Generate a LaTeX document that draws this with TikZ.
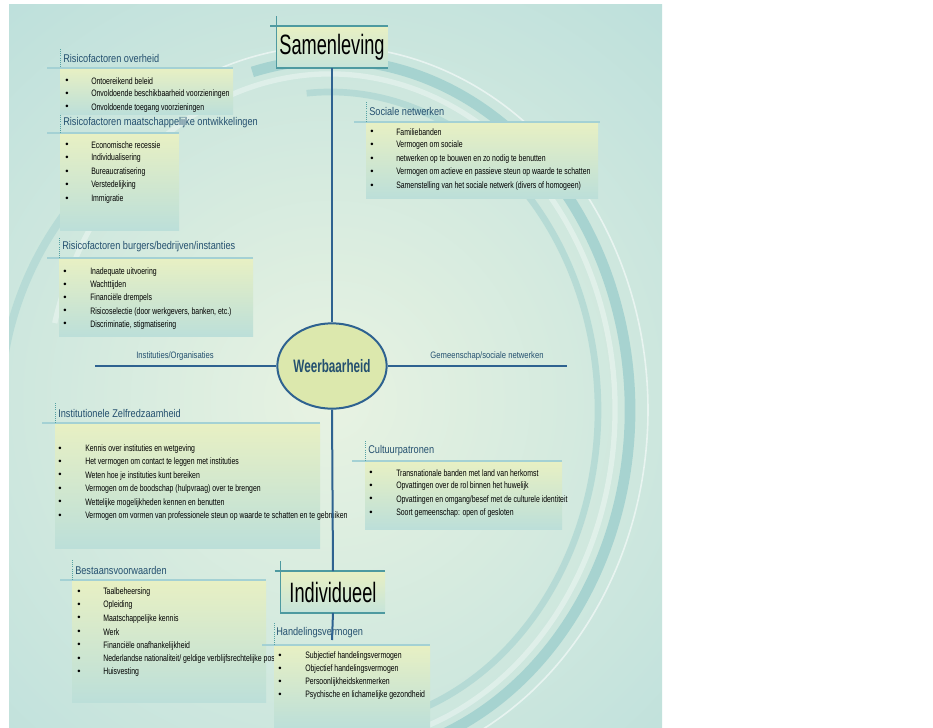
\documentclass[tikz,border=0pt]{standalone}
\usepackage{fontspec}
\setmainfont{Liberation Sans}
\newfontfamily\narrowA{Liberation Sans}[FakeStretch=0.82]
\newfontfamily\narrowB{Liberation Sans}[FakeStretch=0.65]
\newfontfamily\narrowC{Liberation Sans}[FakeStretch=0.74]
\usetikzlibrary{shapes.geometric}

\definecolor{bgteal}{HTML}{B3DBDA}
\definecolor{bglight}{HTML}{E8F3E2}
\definecolor{boxtop}{HTML}{E8F0C3}
\definecolor{boxbot}{HTML}{BCDFD9}
\definecolor{catbot}{HTML}{C6E4DA}
\definecolor{ttlblue}{HTML}{24506F}
\definecolor{axisblue}{HTML}{2E6290}
\definecolor{bandteal}{HTML}{A4D1D4}
\definecolor{dotteal}{HTML}{55A2A3}
\definecolor{catteal}{HTML}{4E9AA0}
\definecolor{ellfill}{HTML}{DCE8AD}
\definecolor{swirl}{HTML}{97CBCB}

\begin{document}
\begin{tikzpicture}[x=0.75pt,y=-0.75pt,
  ttl/.style={anchor=west,inner sep=0pt,text=ttlblue,font=\narrowA\fontsize{8.4}{10}\selectfont},
  itm/.style={anchor=west,inner sep=0pt,font=\narrowC\fontsize{7}{8}\selectfont},
  bul/.style={inner sep=0pt,font=\fontsize{7}{8}\selectfont},
  band/.style={draw=bandteal,line width=2.2pt},
  panel/.style={top color=boxtop,bottom color=boxbot},
  dotline/.style={draw=dotteal,densely dotted,line width=.6pt},
  axis/.style={draw=axisblue,line width=1.5pt},
  axlbl/.style={inner sep=0pt,text=ttlblue,font=\narrowA\fontsize{7}{8}\selectfont},
  catbox/.style={top color=boxtop,bottom color=catbot,inner sep=0pt,minimum height=31pt,
    font=\narrowB\fontsize{21}{24}\selectfont},
  catline/.style={draw=catteal,line width=.9pt}]
\useasboundingbox (0,0) rectangle (933,728);
\fill[white] (0,0) rectangle (933,728);

% background with swirls
\begin{scope}
 \clip (9,4) rectangle (662,728);
 \fill[bgteal] (9,4) rectangle (662,728);
 \shade[inner color=bglight,outer color=bgteal] (330,400) circle (640);
 \draw[swirl,opacity=.7,line width=8pt] (330,410) ++(-105:300 and 350) arc[start angle=-105,end angle=75,x radius=300,y radius=350];
 \draw[white,opacity=.35,line width=4pt] (330,410) ++(-165:285 and 336) arc[start angle=-165,end angle=75,x radius=285,y radius=336];
 \draw[white,opacity=.55,line width=1.2pt] (330,410) ++(-120:318 and 364) arc[start angle=-120,end angle=72,x radius=318,y radius=364];
 \draw[swirl,opacity=.45,line width=5pt] (330,410) ++(-95:268 and 318) arc[start angle=-95,end angle=70,x radius=268,y radius=318];
 \draw[swirl,opacity=.4,line width=6pt] (330,410) ++(-172:330 and 330) arc[start angle=-172,end angle=-125,x radius=330,y radius=330];
\end{scope}

% Risicofactoren overheid
\shade[panel] (60,68) rectangle (233,114);
\draw[band] (47,68) -- (233,68);
\draw[dotline] (60,49) -- (60,68);
\node[ttl] (ro-t) at (63,58) {Risicofactoren overheid};
\foreach \t [count=\i from 0] in {Ontoereikend beleid,Onvoldoende beschikbaarheid voorzieningen,Onvoldoende toegang voorzieningen}{
  \node[bul] (ro-b\i) at (67,{81+13.4*\i}) {\textbullet};
  \node[itm] (ro-\i) at (91,{81+13.4*\i}) {\t};
}

% Risicofactoren maatschappelijke ontwikkelingen
\shade[panel] (60,133) rectangle (179,230);
\draw[band] (47,133) -- (179,133);
\draw[dotline] (60,115) -- (60,133);
\node[ttl] (rm-t) at (63,123) {Risicofactoren maatschappelijke ontwikkelingen};
\foreach \t [count=\i from 0] in {Economische recessie,Individualisering,Bureaucratisering,Verstedelijking,Immigratie}{
  \node[bul] (rm-b\i) at (67,{145+13.5*\i}) {\textbullet};
  \node[itm] (rm-\i) at (91,{145+13.5*\i}) {\t};
}

% Risicofactoren burgers/bedrijven/instanties
\shade[panel] (59,258) rectangle (253,336);
\draw[band] (47,258) -- (253,258);
\draw[dotline] (59,238) -- (59,258);
\node[ttl] (rb-t) at (62,247) {Risicofactoren burgers/bedrijven/instanties};
\foreach \t [count=\i from 0] in {Inadequate uitvoering,Wachttijden,Financiële drempels,{Risicoselectie (door werkgevers, banken, etc.)},{Discriminatie, stigmatisering}}{
  \node[bul] (rb-b\i) at (65,{272+13.2*\i}) {\textbullet};
  \node[itm] (rb-\i) at (90,{272+13.2*\i}) {\t};
}

% Institutionele Zelfredzaamheid
\shade[panel] (55,423) rectangle (320,548);
\draw[band] (42,423) -- (320,423);
\draw[dotline] (55,403) -- (55,423);
\node[ttl] (iz-t) at (58,413) {Institutionele Zelfredzaamheid};
\foreach \t [count=\i from 0] in {Kennis over instituties en wetgeving,Het vermogen om contact te leggen met instituties,Weten hoe je instituties kunt bereiken,Vermogen om de boodschap (hulpvraag) over te brengen,Wettelijke mogelijkheden kennen en benutten,Vermogen om vormen van professionele steun op waarde te schatten en te gebruiken}{
  \node[bul] (iz-b\i) at (60,{449+13.4*\i}) {\textbullet};
  \node[itm] (iz-\i) at (85,{449+13.4*\i}) {\t};
}

% Sociale netwerken
\shade[panel] (366,122) rectangle (598,198);
\draw[band] (354,122) -- (600,122);
\draw[dotline] (366,102) -- (366,122);
\node[ttl] (sn-t) at (369,111) {Sociale netwerken};
\foreach \t [count=\i from 0] in {Familiebanden,Vermogen om sociale,netwerken op te bouwen en zo nodig te benutten,Vermogen om actieve en passieve steun op waarde te schatten,Samenstelling van het sociale netwerk (divers of homogeen)}{
  \node[bul] (sn-b\i) at (372,{132+13.5*\i}) {\textbullet};
  \node[itm] (sn-\i) at (396,{132+13.5*\i}) {\t};
}

% Cultuurpatronen
\shade[panel] (365,461) rectangle (562,529);
\draw[band] (352,461) -- (562,461);
\draw[dotline] (365,441) -- (365,461);
\node[ttl] (cp-t) at (368,451) {Cultuurpatronen};
\foreach \t [count=\i from 0] in {Transnationale banden met land van herkomst,Opvattingen over de rol binnen het huwelijk,Opvattingen en omgang/besef met de  culturele identiteit,{Soort gemeenschap: open of gesloten}}{
  \node[bul] (cp-b\i) at (371,{473+13.4*\i}) {\textbullet};
  \node[itm] (cp-\i) at (396,{473+13.4*\i}) {\t};
}

% Bestaansvoorwaarden
\shade[panel] (72,580) rectangle (266,702);
\draw[band] (60,580) -- (266,580);
\draw[dotline] (72,560) -- (72,580);
\node[ttl] (bv-t) at (75,570) {Bestaansvoorwaarden};
\foreach \t [count=\i from 0] in {Taalbeheersing,Opleiding,Maatschappelijke kennis,Werk,Financiële onafhankelijkheid,Nederlandse nationaliteit/ geldige verblijfsrechtelijke pos,Huisvesting}{
  \node[bul] (bv-b\i) at (79,{592+13.4*\i}) {\textbullet};
  \node[itm] (bv-\i) at (103,{592+13.4*\i}) {\t};
}

% Handelingsvermogen
\shade[panel] (274,645) rectangle (430,728);
\draw[band] (262,645) -- (430,645);
\draw[dotline] (274,623) -- (274,645);
\node[ttl] (hv-t) at (276,633) {Handelingsvermogen};
\foreach \t [count=\i from 0] in {Subjectief handelingsvermogen,Objectief handelingsvermogen,Persoonlijkheidskenmerken,Psychische en lichamelijke gezondheid}{
  \node[bul] (hv-b\i) at (280,{656+13*\i}) {\textbullet};
  \node[itm] (hv-\i) at (305,{656+13*\i}) {\t};
}

% centre and the two poles
\node[catbox,minimum width=83pt] (samen) at (332,47) {Samenleving};
\node[catbox,minimum width=78pt] (indiv) at (333,592) {Individueel};
\node[ellipse,draw=axisblue,line width=1.5pt,fill=ellfill,inner sep=0pt,
      minimum width=82pt,minimum height=64pt,text=ttlblue,
      font=\narrowB\bfseries\fontsize{13.5}{16}\selectfont] (weer) at (332,366) {Weerbaarheid};
\draw[catline] ([xshift=-4.5pt]samen.north west) -- (samen.north east);
\draw[catline] ([yshift=7.5pt]samen.north west) -- (samen.south west) -- (samen.south east);
\draw[catline] ([xshift=-4.5pt]indiv.north west) -- (indiv.north east);
\draw[catline] ([yshift=7.5pt]indiv.north west) -- (indiv.south west) -- (indiv.south east);

\coordinate (instL) at (95,366);
\coordinate (instM) at (256,366);
\coordinate (gemM) at (407,366);
\coordinate (gemR) at (567,366);
\coordinate (hvend) at (332,640);
\draw[axis] (samen.south) -- (weer.north);
\draw[axis] (weer.south) -- (indiv.north);
\draw[axis] (indiv.south) -- (hvend);
\draw[axis,line width=1pt] (weer.west) -- (instM);
\draw[axis,line width=2pt] (instM) -- (instL);
\draw[axis,line width=1pt] (weer.east) -- (gemM);
\draw[axis,line width=2pt] (gemM) -- (gemR);
\node[axlbl] (instlbl) at (175,356) {Instituties/Organisaties};
\node[axlbl] (gemlbl) at (487,356) {Gemeenschap/sociale netwerken};
\end{tikzpicture}
\end{document}
